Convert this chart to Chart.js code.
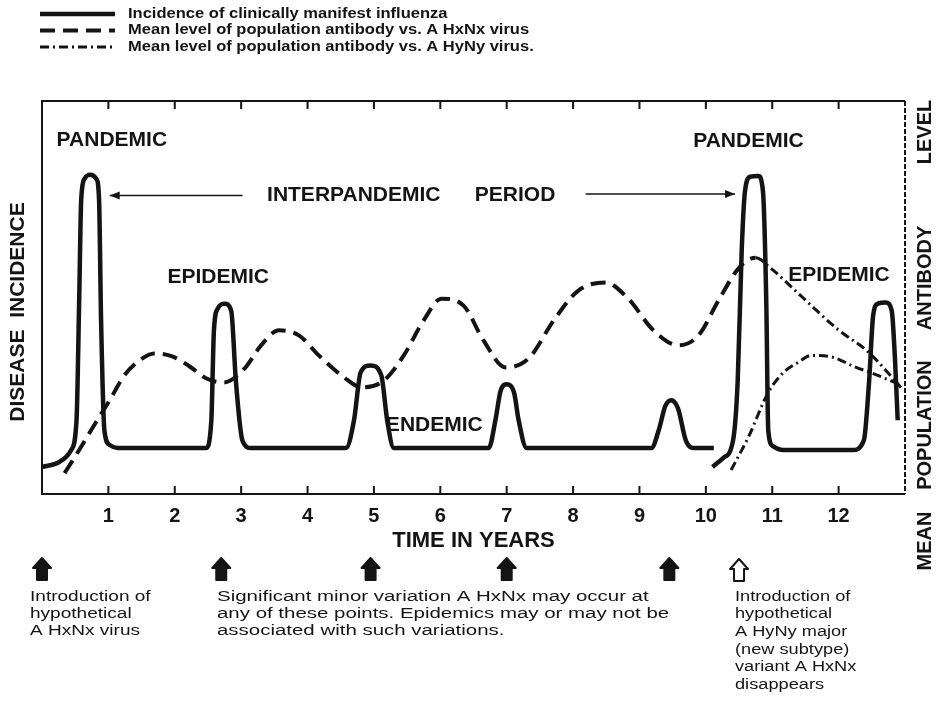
<!DOCTYPE html>
<html>
<head>
<meta charset="utf-8">
<title>Influenza incidence and population antibody</title>
<script src="https://cdn.jsdelivr.net/npm/chart.js@4.4.1/dist/chart.umd.min.js"></script>
<style>
  html, body { margin: 0; padding: 0; background: #fff; }
  #wrap { width: 937px; height: 728px; position: relative; }
</style>
</head>
<body>
<div id="wrap"><canvas id="fluChart"></canvas></div>
<script>
// time in years (x) and relative level (y)
const incidenceX = [0, 0.26, 0.44, 0.52, 0.56, 0.59, 0.64, 0.73, 0.82, 0.86, 0.89, 0.94, 1.02, 1.14,
  2.47, 2.55, 2.59, 2.65, 2.75, 2.85, 2.92, 3.02, 3.15,
  4.58, 4.70, 4.80, 4.95, 5.11, 5.20, 5.30,
  6.73, 6.83, 6.91, 7.00, 7.11, 7.18, 7.30,
  9.18, 9.29, 9.39, 9.48, 9.58, 9.70, 9.83, 10.12,
  10.12,
  10.10, 10.26, 10.41, 10.48, 10.54, 10.59, 10.67, 10.79, 10.86, 10.91, 10.94, 11.01, 11.16,
  12.21, 12.38, 12.46, 12.52, 12.59, 12.71, 12.80, 12.85, 12.89];
const incidenceY = [5.2, 6.5, 9.6, 17.3, 48.3, 74.2, 79.8, 80.9, 79.8, 74.2, 43.2, 14.7, 10.9, 10.1,
  10.1, 17, 40.6, 46.3, 47.5, 45.7, 27.6, 12, 10.1,
  10.1, 17.3, 29.7, 31.5, 29, 17.3, 10.1,
  10.1, 17.3, 25, 26.6, 24.5, 17.3, 10.1,
  10.1, 14.7, 21, 22.5, 20.4, 12, 10.1, 10.1,
  null,
  5.2, 7.5, 12.1, 27.6, 61.2, 76.7, 80.4, 80.6, 76.7, 48.3, 14.7, 10.6, 9.6,
  9.6, 12.1, 27.6, 44.4, 47.5, 47.8, 45.7, 32.8, 17.3];

const hxnxX = [0.34, 0.56, 0.82, 1.02, 1.24, 1.47, 1.69, 1.95, 2.22, 2.47, 2.74, 3.05, 3.30, 3.57,
  3.87, 4.17, 4.55, 4.82, 5.15, 5.45, 5.75, 6.02, 6.35, 6.65, 6.98, 7.33, 7.71, 8.08, 8.49, 8.83,
  9.21, 9.59, 9.89, 10.19, 10.49, 10.75, 10.97, 11.39, 11.99, 12.44, 12.94];
const hxnxY = [3.6, 9.6, 17.0, 22.5, 28.9, 32.8, 34.6, 33.9, 31.3, 28.2, 27.1, 30.7, 36.7, 40.6,
  39.3, 34.1, 28.4, 25.8, 27.6, 34.1, 43.2, 48.8, 47.0, 38.0, 31.0, 33.3, 43.2, 50.9, 53.0, 48.8,
  40.6, 36.7, 39.3, 48.3, 56.6, 59.4, 56.8, 50.2, 40.8, 35.1, 25.8];

const hynyX = [10.38, 10.64, 10.94, 11.17, 11.39, 11.59, 11.92, 12.22, 12.55, 12.94];
const hynyY = [4.4, 12.9, 24.5, 29.7, 32.3, 34.1, 33.6, 31.3, 29.2, 26.4];

const yearTicks = [1, 2, 3, 4, 5, 6, 7, 8, 9, 10, 11, 12];
const minorVariationYears = [0, 2.7, 4.95, 7, 9.45];
const newSubtypeYears = [10.5];

const seriesLabels = [
  'Incidence of clinically manifest influenza',
  'Mean level of population antibody vs. A HxNx virus',
  'Mean level of population antibody vs. A HyNy virus.'
];

const INK = '#141414';
const FONT = "'Liberation Sans', Arial, sans-serif";
Chart.defaults.font.family = FONT;
Chart.defaults.color = INK;

function toPoints(xs, ys) {
  return xs.map((x, i) => ({ x: x, y: ys[i] }));
}

function txt(ctx, s, x, y, font, sx, align) {
  ctx.save();
  ctx.font = font;
  ctx.fillStyle = INK;
  ctx.textBaseline = 'middle';
  ctx.textAlign = align || 'left';
  ctx.translate(x, y);
  ctx.scale(sx || 1, 1);
  ctx.fillText(s, 0, 0);
  ctx.restore();
}

function vtxt(ctx, s, x, y, font) {
  ctx.save();
  ctx.font = font;
  ctx.fillStyle = INK;
  ctx.translate(x, y);
  ctx.rotate(-Math.PI / 2);
  ctx.textAlign = 'center';
  ctx.textBaseline = 'middle';
  ctx.fillText(s, 0, 0);
  ctx.restore();
}

function hArrow(ctx, x1, x2, y, head) {
  ctx.save();
  ctx.strokeStyle = INK;
  ctx.fillStyle = INK;
  ctx.lineWidth = 1.5;
  ctx.beginPath();
  ctx.moveTo(x1, y);
  ctx.lineTo(x2, y);
  ctx.stroke();
  const d = head === 'left' ? 1 : -1;
  const hx = head === 'left' ? x1 : x2;
  ctx.beginPath();
  ctx.moveTo(hx, y);
  ctx.lineTo(hx + d * 10, y - 4);
  ctx.lineTo(hx + d * 10, y + 4);
  ctx.closePath();
  ctx.fill();
  ctx.restore();
}

function upArrow(ctx, cx, top, filled) {
  ctx.save();
  ctx.beginPath();
  ctx.moveTo(cx, top);
  ctx.lineTo(cx + 9, top + 10);
  ctx.lineTo(cx + 5, top + 10);
  ctx.lineTo(cx + 5, top + 22);
  ctx.lineTo(cx - 5, top + 22);
  ctx.lineTo(cx - 5, top + 10);
  ctx.lineTo(cx - 9, top + 10);
  ctx.closePath();
  ctx.lineJoin = 'round';
  ctx.strokeStyle = INK;
  ctx.lineWidth = 2;
  if (filled) {
    ctx.fillStyle = INK;
    ctx.fill();
  }
  ctx.stroke();
  ctx.restore();
}

const decorations = {
  id: 'decorations',
  beforeDraw(chart) {
    const ctx = chart.ctx;
    ctx.save();
    ctx.fillStyle = '#ffffff';
    ctx.fillRect(0, 0, chart.width, chart.height);
    ctx.restore();
  },
  afterDatasetsDraw(chart) {
    const ctx = chart.ctx;
    const a = chart.chartArea;
    const xs = chart.scales.x;
    const ys = chart.scales.y;
    const px = v => xs.getPixelForValue(v);
    const py = v => ys.getPixelForValue(v);

    // frame: solid left/top/bottom, dashed right
    ctx.save();
    ctx.strokeStyle = INK;
    ctx.lineWidth = 2;
    ctx.beginPath();
    ctx.moveTo(a.right, a.top);
    ctx.lineTo(a.left, a.top);
    ctx.lineTo(a.left, a.bottom);
    ctx.lineTo(a.right, a.bottom);
    ctx.stroke();
    ctx.setLineDash([5, 2]);
    ctx.beginPath();
    ctx.moveTo(a.right, a.top);
    ctx.lineTo(a.right, a.bottom);
    ctx.stroke();
    ctx.setLineDash([]);
    // inward tick marks top and bottom
    yearTicks.forEach(t => {
      const x = px(t);
      ctx.beginPath();
      ctx.moveTo(x, a.top);
      ctx.lineTo(x, a.top + 8);
      ctx.moveTo(x, a.bottom);
      ctx.lineTo(x, a.bottom - 8);
      ctx.stroke();
    });
    ctx.restore();

    // labels inside the plot
    const big = 'bold 21px ' + FONT;
    txt(ctx, 'PANDEMIC', px(0.22), py(89.9), big);
    txt(ctx, 'PANDEMIC', px(9.81), py(89.6), big);
    txt(ctx, 'INTERPANDEMIC', px(3.39), py(75.5), big);
    txt(ctx, 'PERIOD', px(6.52), py(75.5), big);
    hArrow(ctx, px(1.02), px(3.02), py(75.5), 'left');
    hArrow(ctx, px(8.19), px(10.44), py(75.9), 'right');
    txt(ctx, 'EPIDEMIC', px(1.89), py(54.3), big);
    txt(ctx, 'EPIDEMIC', px(11.24), py(54.8), big);
    txt(ctx, 'ENDEMIC', px(5.18), py(16.0), big);

    // side titles
    vtxt(ctx, 'DISEASE  INCIDENCE', 18, 312, 'bold 21px ' + FONT);
    const side = 'bold 20px ' + FONT;
    vtxt(ctx, 'MEAN', 925, 541, side);
    vtxt(ctx, 'POPULATION', 925, 425, side);
    vtxt(ctx, 'ANTIBODY', 925, 278, side);
    vtxt(ctx, 'LEVEL', 925, 132, side);

    // legend with the datasets' own line styles
    chart.data.datasets.forEach((ds, i) => {
      const y = 14 + i * 16.5;
      ctx.save();
      ctx.strokeStyle = INK;
      ctx.lineWidth = ds.borderWidth;
      ctx.setLineDash(ds.borderDash || []);
      ctx.beginPath();
      ctx.moveTo(40, y);
      ctx.lineTo(115, y);
      ctx.stroke();
      ctx.restore();
      txt(ctx, ds.label, 128, y, 'bold 14px ' + FONT, 1.18);
    });

    // event arrows under the axis
    minorVariationYears.forEach(t => upArrow(ctx, px(t), 558, true));
    newSubtypeYears.forEach(t => upArrow(ctx, px(t), 559, false));

    // notes
    const note = '14px ' + FONT;
    ['Introduction of', 'hypothetical', 'A HxNx virus'].forEach((l, i) =>
      txt(ctx, l, 30, 597 + i * 17, note, 1.36));
    ['Significant minor variation A HxNx may occur at',
     'any of these points. Epidemics may or may not be',
     'associated with such variations.'].forEach((l, i) =>
      txt(ctx, l, 217, 597 + i * 17, note, 1.46));
    ['Introduction of', 'hypothetical', 'A HyNy major', '(new subtype)', 'variant A HxNx', 'disappears']
      .forEach((l, i) => txt(ctx, l, 735, 597 + i * 17.6, note, 1.3));
  }
};

new Chart(document.getElementById('fluChart'), {
  type: 'line',
  data: {
    datasets: [
      {
        label: seriesLabels[0],
        data: toPoints(incidenceX, incidenceY),
        borderColor: INK,
        borderWidth: 4.5,
        pointRadius: 0,
        cubicInterpolationMode: 'monotone',
        spanGaps: false
      },
      {
        label: seriesLabels[1],
        data: toPoints(hxnxX, hxnxY),
        borderColor: INK,
        borderWidth: 4,
        borderDash: [15, 8],
        pointRadius: 0,
        cubicInterpolationMode: 'monotone',
        segment: {
          borderDash: c => c.p0.parsed.x >= 10.75 ? [9, 4, 2, 4] : undefined,
          borderWidth: c => c.p0.parsed.x >= 10.75 ? 3 : undefined
        }
      },
      {
        label: seriesLabels[2],
        data: toPoints(hynyX, hynyY),
        borderColor: INK,
        borderWidth: 3,
        borderDash: [9, 4, 2, 4],
        pointRadius: 0,
        cubicInterpolationMode: 'monotone'
      }
    ]
  },
  options: {
    responsive: true,
    maintainAspectRatio: false,
    animation: false,
    events: [],
    layout: { padding: { left: 42, right: 32, top: 101, bottom: 0 } },
    plugins: {
      legend: { display: false },
      tooltip: { enabled: false }
    },
    scales: {
      x: {
        type: 'linear',
        min: 0,
        max: 13,
        afterBuildTicks: scale => { scale.ticks = yearTicks.map(v => ({ value: v })); },
        afterFit: scale => { scale.height = 234; },
        grid: { display: false, drawTicks: false },
        border: { display: false },
        ticks: {
          color: INK,
          font: { size: 20, weight: 'bold' },
          padding: 10,
          maxRotation: 0,
          autoSkip: false
        },
        title: {
          display: true,
          text: 'TIME IN YEARS',
          color: INK,
          font: { size: 22, weight: 'bold' },
          padding: { top: 0, bottom: 174 }
        }
      },
      y: { display: false, min: -1.8, max: 100 }
    }
  },
  plugins: [decorations]
});
</script>
</body>
</html>
